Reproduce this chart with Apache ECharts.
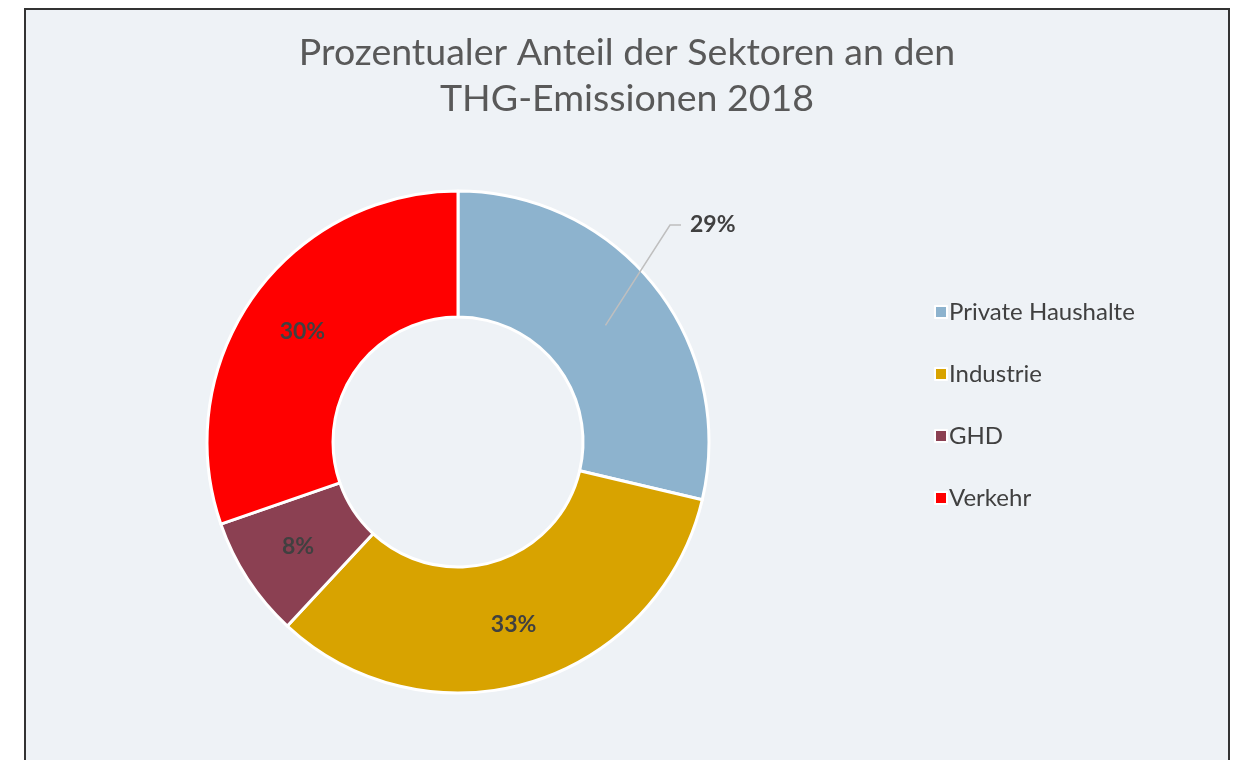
<!DOCTYPE html>
<html>
<head>
<meta charset="utf-8">
<script src="https://cdn.jsdelivr.net/npm/echarts@6/dist/echarts.min.js"></script>
<style>
  html, body { margin: 0; padding: 0; background: #fff; }
  #chart { width: 1233px; height: 760px; }
</style>
</head>
<body>
<div id="chart"></div>
<script>
// Anteile in Prozent
var sectors = ['Private Haushalte', 'Industrie', 'GHD', 'Verkehr'];
var shares = [28.7, 33.2, 7.8, 30.3];
var colors = ['#8DB3CE', '#D8A300', '#8B4052', '#FF0000'];

var pieCenter = [458, 442];
var pieRadius = [125, 251];

var labelFont = {
    fontFamily: 'Lato',
    fontSize: 23,
    fontWeight: 'bold',
    color: '#404040'
};

function pct(p) {
    return Math.round(p.value) + '%';
}

// Ring mit Innenlabels (außer Private Haushalte)
function buildData() {
    var data = [];
    for (var i = 0; i < sectors.length; i++) {
        data.push({
            name: sectors[i],
            value: shares[i],
            itemStyle: { color: colors[i] },
            label: { show: i !== 0 }
        });
    }
    return data;
}

// unsichtbarer Ring darüber, nur für das Außenlabel mit Führungslinie
function buildOverlay() {
    var data = [];
    for (var i = 0; i < sectors.length; i++) {
        data.push({
            name: sectors[i],
            value: shares[i],
            label: { show: i === 0 },
            labelLine: { show: i === 0 }
        });
    }
    return data;
}

// Führungslinie startet in der Ringmitte
function moveLabel(p) {
    if (p.dataIndex !== 0 || !p.labelLinePoints) return {};
    var edge = p.labelLinePoints[0];
    var k = (pieRadius[0] + pieRadius[1]) / 2 / pieRadius[1];
    var start = [pieCenter[0] + (edge[0] - pieCenter[0]) * k,
                 pieCenter[1] + (edge[1] - pieCenter[1]) * k];
    var x = 690, y = 225;
    return {
        x: x,
        y: y,
        align: 'left',
        verticalAlign: 'middle',
        labelLinePoints: [start, [x - 20, y], [x - 9, y]]
    };
}

var myChart = echarts.init(document.getElementById('chart'));
var option = {
    backgroundColor: '#fff',
    graphic: [{
        type: 'rect',
        shape: { x: 25, y: 9, width: 1204, height: 760 },
        style: { fill: '#EEF2F6', stroke: '#333', lineWidth: 2 },
        z: -10
    }],
    title: {
        text: 'Prozentualer Anteil der Sektoren an den\nTHG-Emissionen 2018',
        left: 622,
        top: 25,
        textAlign: 'center',
        textStyle: {
            fontFamily: 'Lato',
            fontSize: 37.5,
            fontWeight: 'normal',
            color: '#595959',
            lineHeight: 46
        }
    },
    legend: {
        orient: 'vertical',
        left: 929,
        top: 295,
        itemGap: 38,
        itemWidth: 12,
        itemHeight: 12,
        icon: 'rect',
        itemStyle: { borderColor: '#fff', borderWidth: 2 },
        textStyle: { fontFamily: 'Lato', fontSize: 24, color: '#404040', padding: [0, 0, 0, -3] },
        data: sectors
    },
    series: [{
        type: 'pie',
        z: 2,
        center: pieCenter,
        radius: pieRadius,
        startAngle: 90,
        clockwise: true,
        avoidLabelOverlap: false,
        itemStyle: { borderColor: '#fff', borderWidth: 3 },
        label: Object.assign({ position: 'inside', formatter: pct }, labelFont),
        labelLine: { show: false },
        emphasis: { disabled: true },
        data: buildData()
    }, {
        type: 'pie',
        z: 5,
        silent: true,
        legendHoverLink: false,
        center: pieCenter,
        radius: pieRadius,
        startAngle: 90,
        clockwise: true,
        avoidLabelOverlap: false,
        itemStyle: { color: 'rgba(0,0,0,0)', borderWidth: 0 },
        label: Object.assign({ position: 'outside', formatter: pct }, labelFont),
        labelLine: {
            length: 60,
            length2: 12,
            lineStyle: { color: '#BFBFBF', width: 1.5 }
        },
        labelLayout: moveLabel,
        emphasis: { disabled: true },
        data: buildOverlay()
    }]
};
myChart.setOption(option);
window.addEventListener('resize', function () {
    myChart.resize();
});
</script>
</body>
</html>
